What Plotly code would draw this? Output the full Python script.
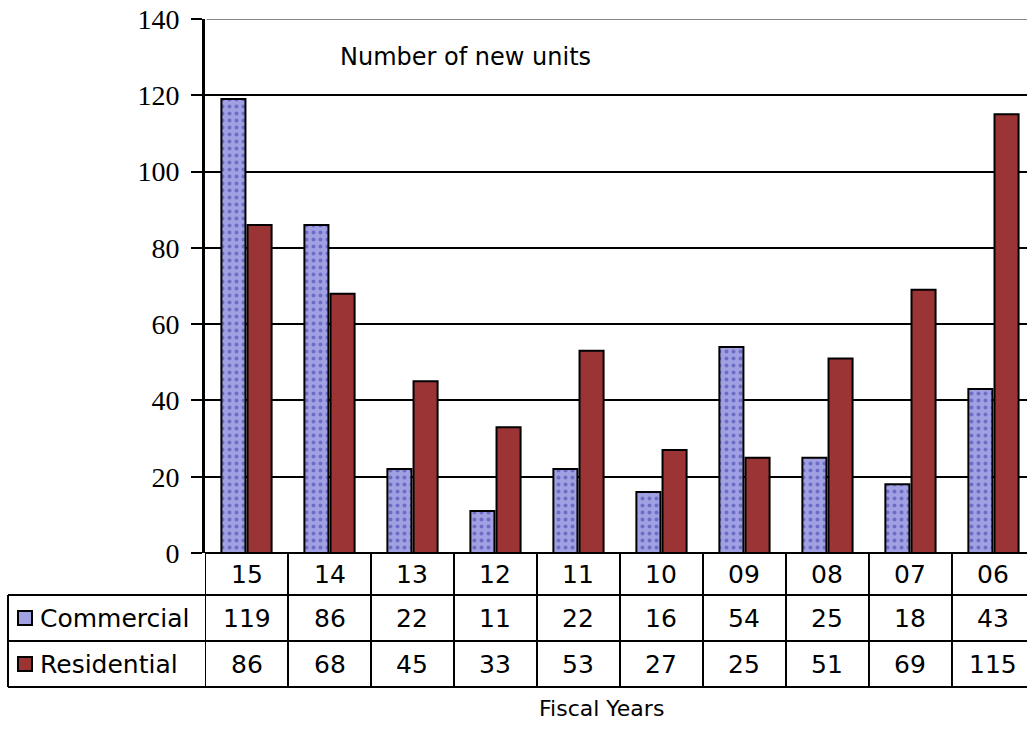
import plotly.graph_objects as go

years = ["15", "14", "13", "12", "11", "10", "09", "08", "07", "06"]
commercial = [119, 86, 22, 11, 22, 16, 54, 25, 18, 43]
residential = [86, 68, 45, 33, 53, 27, 25, 51, 69, 115]
series_names = ["Commercial", "Residential"]
y_ticks = [0, 20, 40, 60, 80, 100, 120, 140]

COM_COLOR = "#a0a0e2"
RES_COLOR = "#9b3535"

TABLE_FONT = dict(family="DejaVu Sans", size=25, color="black")

fig = go.Figure()
fig.add_trace(go.Bar(
    x=years, y=commercial, name=series_names[0],
    marker=dict(color=COM_COLOR, line=dict(color="black", width=2),
                pattern=dict(shape=".", fgcolor="#3a3aa8", bgcolor=COM_COLOR,
                             size=7, solidity=0.25)),
))
fig.add_trace(go.Bar(
    x=years, y=residential, name=series_names[1],
    marker=dict(color=RES_COLOR, line=dict(color="black", width=2)),
))

def py(p):
    return (553 - p) / 534.0

def px(p):
    return (p - 205) / 822.0

row_top, row1, row2, row3 = 553, 595, 641, 687
shapes = []
for yy in (row1, row2, row3):
    shapes.append(dict(type="line", xref="paper", yref="paper", x0=px(8), x1=1.0,
                       y0=py(yy), y1=py(yy), line=dict(color="black", width=2)))
shapes.append(dict(type="line", xref="paper", yref="paper", x0=px(8), x1=px(8),
                   y0=py(row1), y1=py(row3), line=dict(color="black", width=2)))
for i in range(len(years) + 1):
    shapes.append(dict(type="line", xref="x", yref="paper", x0=i - 0.5, x1=i - 0.5,
                       y0=0, y1=py(row3), line=dict(color="black", width=2)))
shapes.append(dict(type="line", xref="paper", yref="y", x0=0.002, x1=1, y0=140, y1=140,
                   line=dict(color="#888888", width=2)))
shapes.append(dict(type="rect", xref="paper", yref="paper", x0=px(18), x1=px(32),
                   y0=py(625), y1=py(611), fillcolor=COM_COLOR,
                   line=dict(color="black", width=2)))
shapes.append(dict(type="rect", xref="paper", yref="paper", x0=px(18), x1=px(32),
                   y0=py(671), y1=py(657), fillcolor=RES_COLOR,
                   line=dict(color="black", width=2)))

annotations = []
for i, yr in enumerate(years):
    annotations.append(dict(x=i, xref="x", y=py((row_top + row1) / 2), yref="paper",
                            text=yr, showarrow=False, font=TABLE_FONT,
                            xanchor="center", yanchor="middle"))
    annotations.append(dict(x=i, xref="x", y=py((row1 + row2) / 2), yref="paper",
                            text=str(commercial[i]), showarrow=False, font=TABLE_FONT,
                            xanchor="center", yanchor="middle"))
    annotations.append(dict(x=i, xref="x", y=py((row2 + row3) / 2), yref="paper",
                            text=str(residential[i]), showarrow=False, font=TABLE_FONT,
                            xanchor="center", yanchor="middle"))
annotations.append(dict(x=px(38), xref="paper", y=py((row1 + row2) / 2), yref="paper",
                        text=series_names[0], showarrow=False, font=TABLE_FONT,
                        xanchor="left", yanchor="middle"))
annotations.append(dict(x=px(38), xref="paper", y=py((row2 + row3) / 2), yref="paper",
                        text=series_names[1], showarrow=False, font=TABLE_FONT,
                        xanchor="left", yanchor="middle"))
annotations.append(dict(x=px(338), xref="paper", y=py(57), yref="paper",
                        text="Number of new units", showarrow=False,
                        font=dict(family="DejaVu Sans", size=24, color="black"),
                        xanchor="left", yanchor="middle"))
annotations.append(dict(x=px(601), xref="paper", y=py(708), yref="paper",
                        text="Fiscal Years", showarrow=False,
                        font=dict(family="DejaVu Sans", size=22, color="black"),
                        xanchor="center", yanchor="middle"))

fig.update_layout(
    width=1027, height=748,
    margin=dict(l=205, r=0, t=19, b=195),
    paper_bgcolor="white", plot_bgcolor="white",
    barmode="group", bargap=0.37, bargroupgap=0.08,
    showlegend=False,
    shapes=shapes, annotations=annotations,
    xaxis=dict(type="category", range=[-0.5, 9.404], showticklabels=False,
               showgrid=False, showline=False, zeroline=False, ticks=""),
    yaxis=dict(range=[0, 140], tickvals=y_ticks, ticks="outside", ticklen=11,
               tickwidth=2, tickcolor="black", showline=True, linecolor="black",
               linewidth=3, showgrid=True, gridcolor="black", gridwidth=2,
               zeroline=True, zerolinecolor="black", zerolinewidth=2,
               ticklabelstandoff=6, automargin=False,
               tickfont=dict(family="Liberation Serif", size=28, color="black")),
)

fig.write_html("out.html", config={"displayModeBar": False},
               post_script="document.body.style.margin='0px';")
